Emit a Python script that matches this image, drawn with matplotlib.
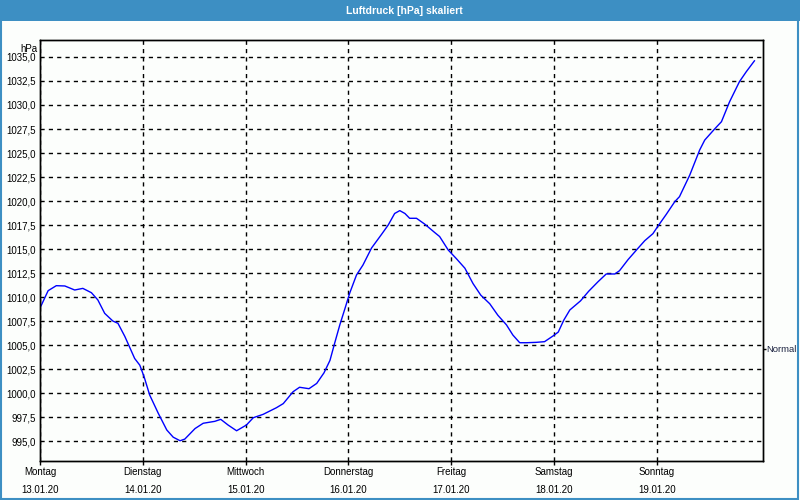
import matplotlib
matplotlib.use('Agg')
import matplotlib.pyplot as plt
from matplotlib.patches import Rectangle

plt.rcParams['font.family'] = ['Liberation Sans', 'DejaVu Sans']

# hours since Monday 13.01.20 00:00, pressure in hPa
hours = [0, 1.9, 3.8, 5.8, 8.1, 10, 12, 13.5, 15.1, 17, 18.2, 19.8, 22.1, 23.3,
         24.3, 25.6, 27.6, 29.6, 31.1, 32.7, 33.8, 36.2, 38.1, 40.8, 42.2, 43.9,
         45.9, 48.2, 49.8, 52.1, 55.2, 56.8, 59.1, 60.6, 62.8, 64.6, 66.3, 67.7,
         68.8, 70, 71.2, 72.3, 73.9, 75.4, 77.4, 79.7, 81.3, 82.8, 84, 85.2, 86.3,
         87.9, 89.8, 92.2, 93.3, 95.3, 97.2, 99.2, 101.1, 102.9, 105, 106.9, 108.9,
         110.4, 112, 113.6, 115.9, 117.8, 119.8, 121, 122.3, 123.7, 126.2, 128.1,
         130.3, 132.2, 134.2, 135.3, 137.3, 139.6, 141.2, 143.1, 144.3, 146.2,
         148.2, 149.3, 151.7, 154, 155.2, 157.5, 159.1, 161, 163.3, 164.9, 166.8]
pressure = [1008.85, 1010.66, 1011.18, 1011.15, 1010.73, 1010.9, 1010.45, 1009.7,
            1008.3, 1007.5, 1007.26, 1005.9, 1003.6, 1002.9, 1001.7, 999.8, 997.9,
            996.15, 995.4, 995.03, 995.2, 996.3, 996.85, 997.05, 997.26, 996.67,
            996.07, 996.67, 997.43, 997.78, 998.47, 998.9, 1000.14, 1000.6, 1000.45,
            1001.0, 1002.1, 1003.4, 1005.2, 1007.1, 1008.8, 1010.4, 1012.3, 1013.33,
            1015.1, 1016.5, 1017.5, 1018.7, 1019.0, 1018.7, 1018.2, 1018.2, 1017.6,
            1016.7, 1016.3, 1014.9, 1014.0, 1013.0, 1011.4, 1010.2, 1009.3, 1008.1,
            1007.1, 1006.04, 1005.24, 1005.24, 1005.28, 1005.35, 1005.95, 1006.35,
            1007.6, 1008.65, 1009.6, 1010.6, 1011.6, 1012.4, 1012.4, 1012.74, 1013.9,
            1015.07, 1015.87, 1016.6, 1017.4, 1018.6, 1019.93, 1020.45, 1022.7,
            1025.3, 1026.35, 1027.5, 1028.26, 1030.34, 1032.43, 1033.47, 1034.6]

day_names = ['Montag', 'Dienstag', 'Mittwoch', 'Donnerstag', 'Freitag', 'Samstag', 'Sonntag']
day_dates = ['13.01.20', '14.01.20', '15.01.20', '16.01.20', '17.01.20', '18.01.20', '19.01.20']
y_ticks = [995.0 + 2.5 * i for i in range(17)]
normal = 1004.6

bar_blue = '#3d8fc3'

fig = plt.figure(figsize=(8, 5), dpi=100)
fig.patch.set_facecolor('#fcfefc')

# title band and frame
fig.add_artist(Rectangle((0, 1 - 21 / 500), 1, 21 / 500, transform=fig.transFigure,
                         facecolor=bar_blue, edgecolor='none'))
fig.add_artist(Rectangle((0.001, 0.003), 0.997, 0.99, transform=fig.transFigure,
                         facecolor='none', edgecolor=bar_blue, linewidth=1.5))
fig.text(0.505, 1 - 10.5 / 500, 'Luftdruck [hPa] skaliert', color='white',
         fontsize=7.5, fontweight='bold', ha='center', va='center')

ax = fig.add_axes([40 / 800, 39 / 500, 723 / 800, 421 / 500])
ax.set_facecolor('#fcfefc')
ax.plot(hours, pressure, color='#0000ff', linewidth=1)

ax.set_xlim(0, 168.8)
ax.set_ylim(992.92, 1036.77)

ax.set_xticks([24 * i for i in range(7)])
ax.set_xticklabels([f'{n}\n{d}' for n, d in zip(day_names, day_dates)],
                   fontsize=7, linespacing=2.0)
ax.set_yticks(y_ticks)
ax.set_yticklabels([f'{v:.1f}'.replace('.', ',') for v in y_ticks], fontsize=7)
ax.tick_params(axis='x', length=3, width=1, pad=1.5, direction='out')
ax.tick_params(axis='y', length=0, pad=3)

ax.grid(True, color='black', linestyle=(0, (3, 3)), linewidth=1)
for s in ax.spines.values():
    s.set_linewidth(1.0)
    s.set_color('black')

ax.text(-0.004, 0.99, 'hPa', transform=ax.transAxes, ha='right', va='top', fontsize=7)

ax2 = ax.twinx()
ax2.set_ylim(ax.get_ylim())
ax2.set_yticks([normal])
ax2.set_yticklabels(['Normal'], fontsize=6.8, color='#1c2340')
ax2.tick_params(axis='y', length=2, width=1, pad=0.5)
for s in ax2.spines.values():
    s.set_linewidth(1.0)

fig.savefig('out.png', dpi=100, facecolor=fig.get_facecolor())
